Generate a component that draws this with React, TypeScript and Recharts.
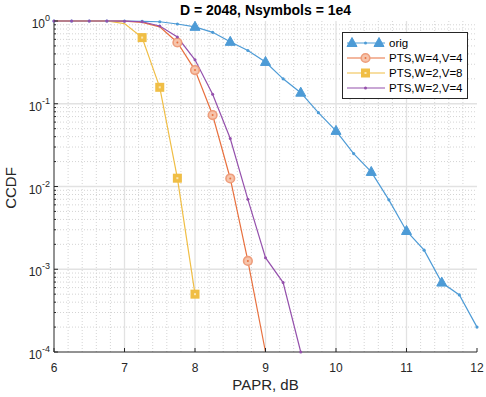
import { LineChart, Line, XAxis, YAxis, ReferenceLine } from 'recharts'

const FONT = '"Liberation Sans", Arial, Helvetica, sans-serif'
const AX = '#262626'
const BLUE = '#4d9bd6'
const ORANGE = '#e8703e'
const YELLOW = '#f0be45'
const PURPLE = '#9450ac'

// PAPR threshold, dB
const papr = [6, 6.25, 6.5, 6.75, 7, 7.25, 7.5, 7.75, 8, 8.25, 8.5, 8.75, 9, 9.25, 9.5, 9.75, 10, 10.25, 10.5, 10.75, 11, 11.25, 11.5, 11.75, 12]
const orig = [1, 1, 1, 1, 1, 0.99, 0.98, 0.92, 0.85, 0.73, 0.56, 0.44, 0.32, 0.2, 0.136, 0.078, 0.047, 0.025, 0.015, 0.0069, 0.0029, 0.0017, 0.00069, 0.00049, 0.0002]
const ptsW4V4 = [1, 1, 1, 1, 0.995, 0.96, 0.85, 0.55, 0.255, 0.073, 0.0125, 0.00126, 0.0001, null, null, null, null, null, null, null, null, null, null, null, null]
const ptsW2V8 = [1, 1, 1, 1, 0.93, 0.63, 0.158, 0.0126, 0.0005, null, null, null, null, null, null, null, null, null, null, null, null, null, null, null, null]
const ptsW2V4 = [1, 1, 1, 1, 0.995, 0.98, 0.87, 0.64, 0.34, 0.13, 0.038, 0.007, 0.00138, 0.00069, 0.0001, null, null, null, null, null, null, null, null, null, null]

// where the big markers sit
const origMarks = [8, 8.5, 9, 9.5, 10, 10.5, 11, 11.5]
const w4v4Marks = [7.75, 8, 8.25, 8.5, 8.75]
const w2v8Marks = [7.25, 7.5, 7.75, 8]

const xTicks = [6, 7, 8, 9, 10, 11, 12]
const yTicks = [1e-4, 1e-3, 1e-2, 1e-1, 1]
const yExps = [-4, -3, -2, -1, 0]
const mantissas = [2, 3, 4, 5, 6, 7, 8, 9]
const xFracs = [0.2, 0.4, 0.6, 0.8]

const xMinor = xTicks.slice(0, -1).flatMap(t => xFracs.map(f => +(t + f).toFixed(2)))
const yMinor = yExps.slice(0, -1).flatMap(e => mantissas.map(m => m * Math.pow(10, e)))
const yAll = [...yTicks, ...yMinor].sort((a, b) => a - b)

const data = papr.map((x, i) => ({
  x, orig: orig[i], w4v4: ptsW4V4[i], w2v8: ptsW2V8[i], w2v4: ptsW2V4[i]
}))

const isMajor = (v: number) => Math.abs(Math.log10(v) - Math.round(Math.log10(v))) < 1e-6

const LeftTick = ({ x, y, payload }: any) => {
  const v = payload.value
  const major = isMajor(v)
  return (
    <g>
      <line x1={x + 4} x2={x + 4 + (major ? 4 : 2)} y1={y} y2={y} stroke={AX} />
      {major && (
        <text x={x} y={y + 7} textAnchor="end" fill={AX} fontSize={12} fontFamily={FONT}>
          <tspan>10</tspan>
          <tspan dy={-7} fontSize={9}>{Math.round(Math.log10(v))}</tspan>
        </text>
      )}
    </g>
  )
}

const RightTick = ({ x, y, payload }: any) => {
  const major = isMajor(payload.value)
  return <line x1={x - (major ? 4 : 2)} x2={x} y1={y} y2={y} stroke={AX} />
}

const tri = (cx: number, cy: number) =>
  `M${cx},${cy - 5.5}L${cx + 5},${cy + 3.5}L${cx - 5},${cy + 3.5}Z`

const origDot = (p: any) => {
  const { cx, cy, index, payload } = p
  if (cx == null || cy == null || payload.orig == null) return <g key={`o${index}`} />
  if (origMarks.includes(payload.x))
    return <path key={`o${index}`} d={tri(cx, cy)} fill={BLUE} stroke={BLUE} />
  return <circle key={`o${index}`} cx={cx} cy={cy} r={1.6} fill={BLUE} />
}

const w4v4Dot = (p: any) => {
  const { cx, cy, index, payload } = p
  if (cx == null || cy == null || payload.w4v4 == null || !w4v4Marks.includes(payload.x))
    return <g key={`a${index}`} />
  return (
    <g key={`a${index}`}>
      <circle cx={cx} cy={cy} r={4.3} fill="#f6c4ab" stroke="#ee9d7b" strokeWidth={1.6} />
      <circle cx={cx} cy={cy} r={1} fill={ORANGE} />
    </g>
  )
}

const w2v8Dot = (p: any) => {
  const { cx, cy, index, payload } = p
  if (cx == null || cy == null || payload.w2v8 == null || !w2v8Marks.includes(payload.x))
    return <g key={`b${index}`} />
  return (
    <g key={`b${index}`}>
      <rect x={cx - 4.5} y={cy - 4.5} width={9} height={9} fill={YELLOW} />
      <rect x={cx - 1} y={cy - 1} width={2} height={2} fill="#fbe7b5" />
    </g>
  )
}

const w2v4Dot = (p: any) => {
  const { cx, cy, index, payload } = p
  if (cx == null || cy == null || payload.w2v4 == null) return <g key={`c${index}`} />
  return <circle key={`c${index}`} cx={cx} cy={cy} r={1.5} fill={PURPLE} />
}

const legendItems = [
  { name: 'orig', color: BLUE, kind: 'tri' },
  { name: 'PTS,W=4,V=4', color: ORANGE, kind: 'circle' },
  { name: 'PTS,W=2,V=8', color: YELLOW, kind: 'square' },
  { name: 'PTS,W=2,V=4', color: PURPLE, kind: 'dot' },
]

function LegendBox() {
  return (
    <div style={{
      position: 'absolute', left: 342, top: 32, width: 126, height: 67,
      boxSizing: 'border-box', border: `1px solid ${AX}`, background: '#fff'
    }}>
      <svg width={124} height={65} style={{ display: 'block' }}>
        {legendItems.map((it, i) => {
          const cy = 10 + i * 15
          return (
            <g key={it.name}>
              <line x1={4} x2={42} y1={cy} y2={cy} stroke={it.color} strokeWidth={1.2} />
              {it.kind === 'tri' && (
                <>
                  <path d={tri(9, cy)} fill={BLUE} stroke={BLUE} />
                  <path d={tri(36, cy)} fill={BLUE} stroke={BLUE} />
                  <circle cx={22.5} cy={cy} r={1.5} fill={BLUE} />
                </>
              )}
              {it.kind === 'circle' && (
                <>
                  <circle cx={22.5} cy={cy} r={4.3} fill="#f6c4ab" stroke="#ee9d7b" strokeWidth={1.6} />
                  <circle cx={22.5} cy={cy} r={1} fill={ORANGE} />
                </>
              )}
              {it.kind === 'square' && (
                <>
                  <rect x={18} y={cy - 4.5} width={9} height={9} fill={YELLOW} />
                  <rect x={21.5} y={cy - 1} width={2} height={2} fill="#fbe7b5" />
                </>
              )}
              {it.kind === 'dot' && <circle cx={22.5} cy={cy} r={1.5} fill={PURPLE} />}
              <text x={46} y={cy + 4} fontSize={11.5} fontFamily={FONT} fill="#000">{it.name}</text>
            </g>
          )
        })}
      </svg>
    </div>
  )
}

export default function App() {
  return (
    <div style={{ position: 'absolute', left: 0, top: 0, width: 486, height: 397, background: '#fff', fontFamily: FONT }}>
      <LineChart width={486} height={397} data={data} margin={{ top: 21, right: 9, bottom: 0, left: 10 }}>
        {xMinor.map(v => (
          <ReferenceLine key={`xm${v}`} x={v} stroke="#d4d4d4" strokeDasharray="1 2" />
        ))}
        {yMinor.map(v => (
          <ReferenceLine key={`ym${v}`} y={v} stroke="#d4d4d4" strokeDasharray="1 2" />
        ))}
        {xTicks.slice(1, -1).map(v => (
          <ReferenceLine key={`xM${v}`} x={v} stroke="#e2e2e2" strokeWidth={1.3} />
        ))}
        {yTicks.slice(1, -1).map(v => (
          <ReferenceLine key={`yM${v}`} y={v} stroke="#e2e2e2" strokeWidth={1.3} />
        ))}
        <XAxis dataKey="x" type="number" domain={[6, 12]} ticks={xTicks} interval={0}
          height={45} tickSize={-4} tickMargin={15} stroke={AX}
          tick={{ fill: AX, fontSize: 12, fontFamily: FONT }} />
        <XAxis xAxisId="top" orientation="top" dataKey="x" type="number" domain={[6, 12]}
          ticks={xTicks} interval={0} height={0} tickSize={-4} tick={false} stroke={AX} />
        <YAxis type="number" scale="log" domain={[1e-4, 1]} ticks={yAll} interval={0}
          width={44} tickLine={false} tickSize={0} tickMargin={4} tick={<LeftTick />} stroke={AX} />
        <YAxis yAxisId="right" orientation="right" type="number" scale="log" domain={[1e-4, 1]}
          ticks={yAll} interval={0} width={0} tickLine={false} tickSize={0} tickMargin={0}
          tick={<RightTick />} stroke={AX} />
        <Line type="linear" dataKey="orig" stroke={BLUE} strokeWidth={1.2} dot={origDot}
          activeDot={false} isAnimationActive={false} />
        <Line type="linear" dataKey="w4v4" stroke={ORANGE} strokeWidth={1.2} dot={w4v4Dot}
          activeDot={false} isAnimationActive={false} />
        <Line type="linear" dataKey="w2v8" stroke={YELLOW} strokeWidth={1.2} dot={w2v8Dot}
          activeDot={false} isAnimationActive={false} />
        <Line type="linear" dataKey="w2v4" stroke={PURPLE} strokeWidth={1.2} dot={w2v4Dot}
          activeDot={false} isAnimationActive={false} />
      </LineChart>
      <div style={{
        position: 'absolute', left: 54, width: 423, top: 2, textAlign: 'center',
        fontWeight: 'bold', fontSize: 14, lineHeight: '16px', color: '#000'
      }}>D = 2048, Nsymbols = 1e4</div>
      <div style={{
        position: 'absolute', left: 54, width: 423, top: 376, textAlign: 'center',
        fontSize: 15, lineHeight: '17px', color: AX
      }}>PAPR, dB</div>
      <div style={{
        position: 'absolute', left: 10, top: 188, transform: 'translate(-50%, -50%) rotate(-90deg)',
        fontSize: 15, lineHeight: '17px', color: AX, whiteSpace: 'nowrap'
      }}>CCDF</div>
      <LegendBox />
    </div>
  )
}
